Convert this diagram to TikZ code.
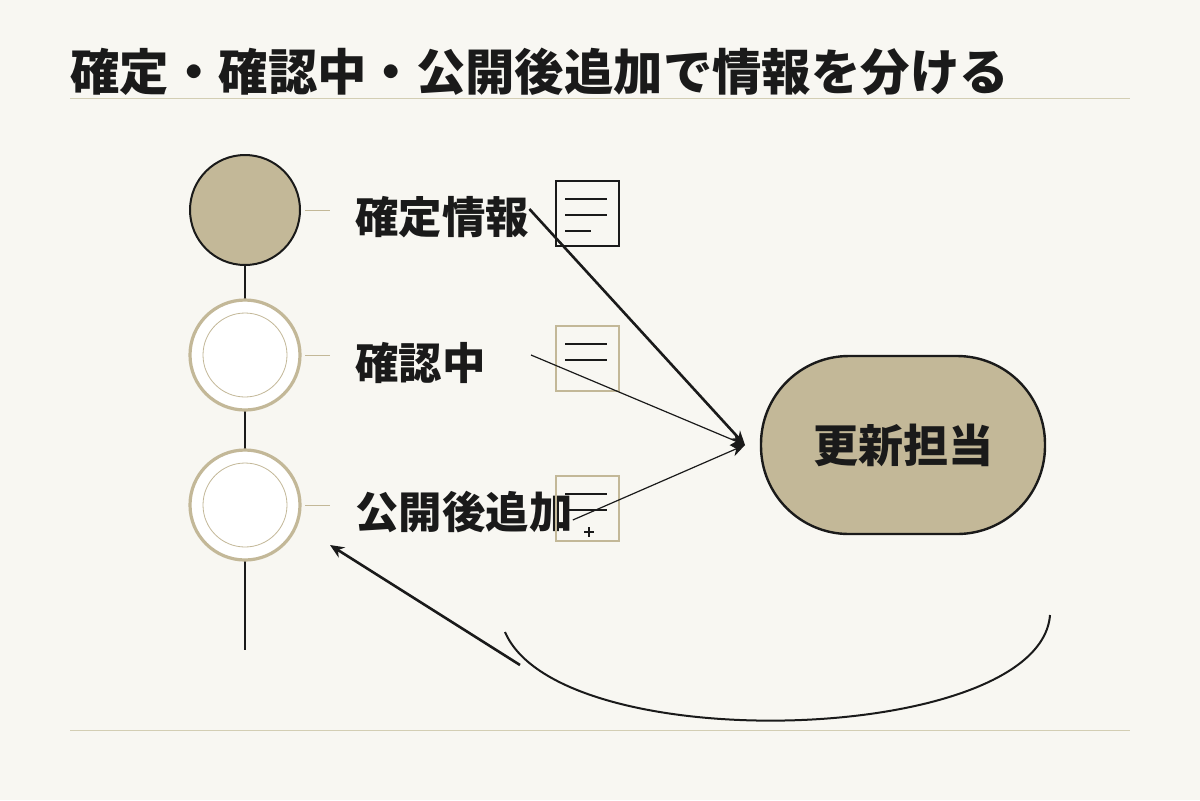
\documentclass[tikz,border=0pt]{standalone}
\usepackage{fontspec}
\setmainfont{Noto Sans CJK JP}
\usetikzlibrary{calc,positioning,arrows.meta}
\definecolor{paper}{HTML}{F8F7F2}
\definecolor{sand}{HTML}{C3B898}
\definecolor{rulecol}{HTML}{D3CEB4}
\definecolor{ink}{HTML}{1A1A1A}
\tikzset{
  stage/.style={circle,minimum size=55pt,inner sep=0pt},
  tag/.style={font=\bfseries\fontsize{21.7pt}{24pt}\selectfont,text=ink,anchor=west,inner sep=0pt},
  doc/.style={draw,minimum width=31.5pt,minimum height=32.5pt,inner sep=0pt,line width=1pt},
  flow/.style={draw=ink,-{Stealth[length=7pt,width=6pt]}}
}
\begin{document}
\begin{tikzpicture}[x=0.5pt,y=-0.5pt]
\fill[paper] (0,0) rectangle (1200,800);
\useasboundingbox (0,0) rectangle (1200,800);

% title and rules
\node[anchor=west,inner sep=0pt,font=\bfseries\fontsize{24.7pt}{27pt}\selectfont,text=ink] (title) at (70,72) {確定・確認中・公開後追加で情報を分ける};
\draw[rulecol] (70,98) -- (1130,98);
\draw[rulecol] (70,730) -- (1130,730);

% timeline
\coordinate (top) at (245,265);
\coordinate (bottom) at (245,650);
\draw[ink,line width=1pt] (top) -- (bottom);

\node[stage,fill=sand,draw=ink,line width=1pt] (fixed) at (245,210) {};
\node[stage,fill=white,draw=sand,line width=1.6pt] (check) at (245,355) {};
\node[stage,fill=white,draw=sand,line width=1.6pt] (later) at (245,505) {};
\draw[sand,line width=0.4pt] (check) circle (42);
\draw[sand,line width=0.4pt] (later) circle (42);

\foreach \y in {210,355,505}
  \draw[sand] (305,\y) -- (330,\y);

\node[tag] (tfixed) at (355,217) {確定情報};
\node[tag] (tcheck) at (355,363) {確認中};
\node[tag] (tlater) at (355,512) {公開後追加};

% documents
\node[doc,draw=ink] (dfixed) at (587.5,213.5) {};
\node[doc,draw=sand] (dcheck) at (587.5,358.5) {};
\node[doc,draw=sand] (dlater) at (587.5,508.5) {};
\foreach \d/\n in {dfixed/3,dcheck/2,dlater/2}
  \foreach \i in {1,...,\n}
    \draw[ink,line width=0.6pt] ($(\d.north west)+(10,\i*16+3)$) -- ++(\ifnum\i=3 26\else 42\fi,0);
\draw[ink,line width=0.6pt] ($(dlater.south west)+(34,-15)$) -- ++(0,10) ($(dlater.south west)+(29,-10)$) -- ++(10,0);

% owner
\node[draw=ink,fill=sand,line width=1.2pt,rounded corners=44pt,minimum width=142pt,minimum height=89pt,
  font=\bfseries\fontsize{22.5pt}{25pt}\selectfont,text=ink] (owner) at (903,445) {更新担当};

% connectors
\coordinate (hit) at (745,445);
\draw[flow,line width=1.3pt] (tfixed.east) ++(0,-8) -- (hit);
\draw[flow,line width=0.6pt] ($(tcheck.east)+(45,-8)$) -- (hit);
\draw[flow,line width=0.6pt] (tlater.east) ++(0,8) -- (hit);
\coordinate (back) at (520,665);
\draw[flow,line width=1.3pt] (back) -- (330,545);
\draw[ink,line width=1pt] (505,632) .. controls (560,760) and (1040,745) .. (1050,615);
\end{tikzpicture}
\end{document}
